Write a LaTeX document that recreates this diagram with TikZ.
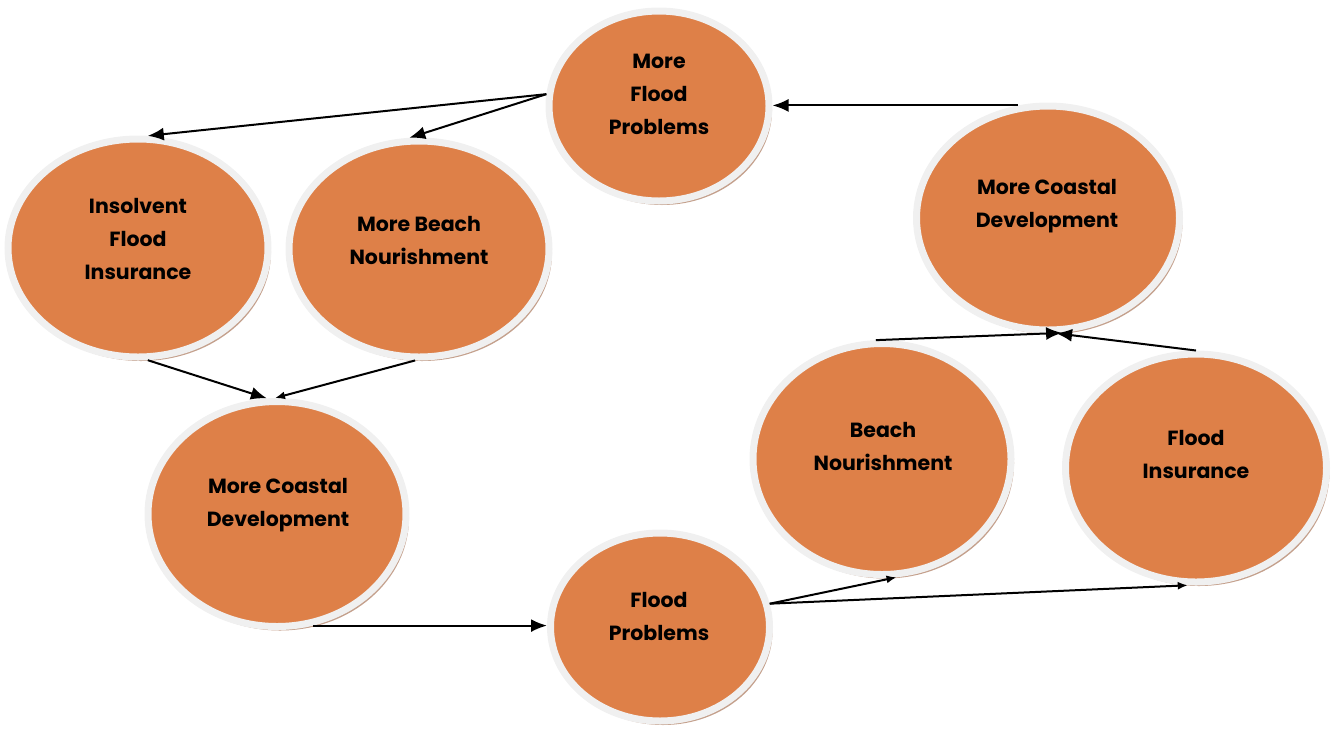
\documentclass[tikz,border=0pt]{standalone}
\usepackage{fontspec}
\setmainfont{Poppins}
\usetikzlibrary{shapes.geometric,shadows,arrows.meta}
\definecolor{orfill}{RGB}{222,128,72}
\definecolor{ringc}{RGB}{240,240,240}
\definecolor{shadc}{RGB}{196,160,140}
\tikzset{
  bub/.style={ellipse, inner sep=0pt, draw=ringc, line width=7pt, fill=orfill,
    drop shadow={shadow xshift=3pt, shadow yshift=-4pt, fill=shadc, opacity=1}},
  txt/.style={font=\bfseries\fontsize{20.5}{33}\selectfont, align=center, text=black},
  arr/.style={line width=2pt, -{Latex[length=16pt,width=13pt]}},
  sarr/.style={line width=2pt, -{Latex[length=10pt,width=8pt]}},
}
\begin{document}
\begin{tikzpicture}[x=1pt,y=-1pt]
\useasboundingbox (0,0) rectangle (1333,732);
% bubbles
\node[bub, minimum width=220pt, minimum height=190pt] (mfp)  at (659,106) {};
\node[bub, minimum width=260pt, minimum height=218pt] (ins)  at (138,248) {};
\node[bub, minimum width=260pt, minimum height=216pt] (mbn)  at (419,249) {};
\node[bub, minimum width=258pt, minimum height=225pt] (mcdl) at (277,514) {};
\node[bub, minimum width=219pt, minimum height=188pt] (fp)   at (660,627) {};
\node[bub, minimum width=263pt, minimum height=224pt] (mcdr) at (1048,218) {};
\node[bub, minimum width=258pt, minimum height=231pt] (bn)   at (882,459) {};
\node[bub, minimum width=261pt, minimum height=228pt] (fi)   at (1196,468) {};
% texts
\node[txt] (mfpT)  at (659,94)  {More\\Flood\\Problems};
\node[txt] (insT)  at (138,239) {Insolvent\\Flood\\Insurance};
\node[txt] (mbnT)  at (419,240) {More Beach\\Nourishment};
\node[txt] (mcdlT) at (278,505) {More Coastal\\Development};
\node[txt] (fpT)   at (659,616) {Flood\\Problems};
\node[txt] (mcdrT) at (1047,206) {More Coastal\\Development};
\node[txt] (bnT)   at (883,446) {Beach\\Nourishment};
\node[txt] (fiT)   at (1196,454) {Flood\\Insurance};
% connectors
\draw[arr] (mfp.174) -- (ins.85);
\draw[arr] (mfp.174) -- (mbn.95);
\draw[arr] (mcdr.105) -- (mfp.east |- mcdr.105);
\draw[arr] (ins.-85) -- (mcdl.95);
\draw[sarr] (mbn.-92) -- (mcdl.91);
\draw[arr] (mcdl.-72) -- (fp.west |- mcdl.-72);
\draw[sarr] (fp.12) -- (bn.-83);
\draw[sarr] (fp.12) -- (fi.-94);
\draw[arr] (bn.93) -- (mcdr.-83);
\draw[arr] (fi.90) -- (mcdr.-86);
\end{tikzpicture}
\end{document}
